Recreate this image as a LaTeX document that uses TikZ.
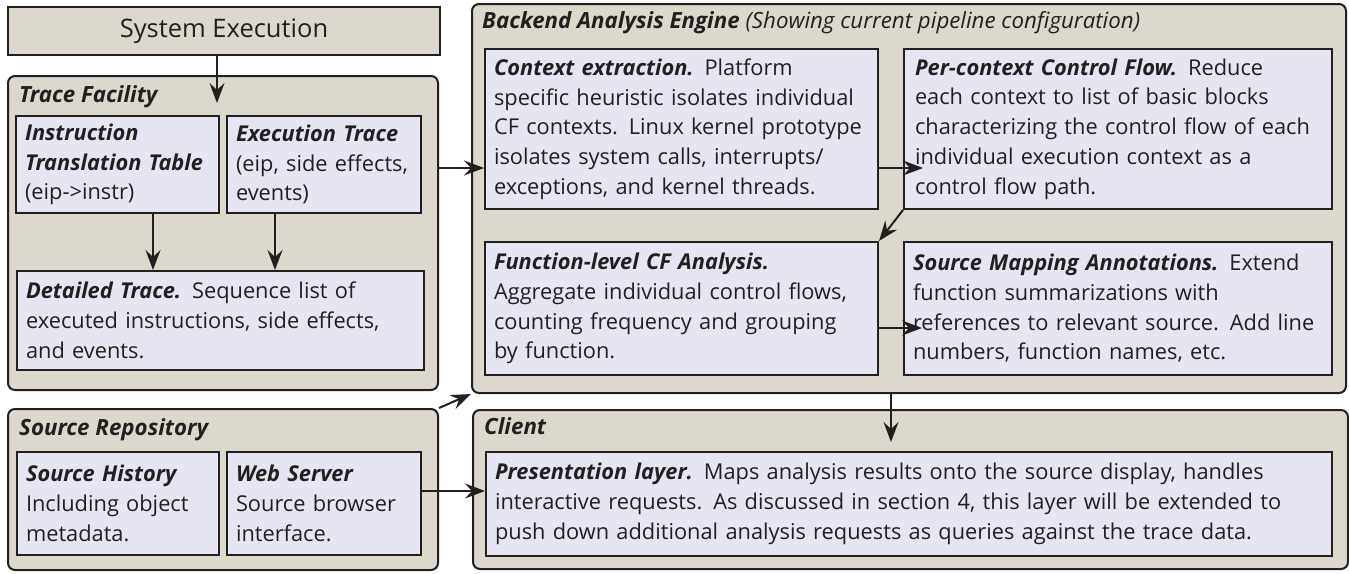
\documentclass[tikz,border=0pt]{standalone}
\usepackage{fontspec}
\setmainfont{Open Sans}
\usetikzlibrary{arrows.meta}
\definecolor{tan}{HTML}{DCD8CD}
\definecolor{lav}{HTML}{E6E6F2}
\definecolor{ink}{HTML}{231F20}
\newcommand{\bi}[1]{\textbf{\textit{#1}}}
\tikzset{
  cont/.style={draw=ink, line width=2pt, fill=tan, rounded corners=7pt, inner sep=0pt, anchor=north west},
  inbox/.style={draw=ink, line width=2pt, fill=lav, anchor=north west, inner xsep=9pt, inner ysep=0pt, align=left,
     font=\fontsize{21.8}{29.7}\selectfont, text=ink},
  ttl/.style={anchor=north west, inner sep=0pt, font=\fontsize{22.3}{26}\selectfont\bfseries\itshape, text=ink},
  arr/.style={draw=ink, line width=2pt, -{Stealth[length=20pt,width=15pt,inset=7pt]}},
}
\begin{document}
\begin{tikzpicture}[x=1pt,y=-1pt]
\useasboundingbox (0,0) rectangle (1349,573);
% System execution
\node[draw=ink, line width=2pt, fill=tan, anchor=north west, minimum width=432pt, minimum height=48pt, inner sep=0pt,
  font=\fontsize{25.5}{30}\selectfont, text=ink] (se) at (7,6) {System Execution};
% Containers
\node[cont, minimum width=430pt, minimum height=314pt] (tf) at (7,75) {};
\node[cont, minimum width=430pt, minimum height=161pt] (sr) at (7,408) {};
\node[cont, minimum width=874pt, minimum height=389pt] (bae) at (471,3) {};
\node[cont, minimum width=875pt, minimum height=159pt] (cl) at (472,409) {};
% Titles
\node[ttl] (tft) at (19,85) {Trace Facility};
\node[ttl] (srt) at (19,418) {Source Repository};
\node[ttl] (baet) at (482,11) {Backend Analysis Engine \textmd{(Showing current pipeline configuration)}};
\node[ttl] (clt) at (484,417) {Client};
% Trace facility boxes
\node[inbox, minimum width=203pt, minimum height=97pt, text width=185pt] (itt) at (15,115)
  {\bi{Instruction}\\\bi{Translation Table}\\(eip->instr)};
\node[inbox, minimum width=194pt, minimum height=97pt, text width=176pt] (et) at (226,115)
  {\bi{Execution Trace}\\(eip, side effects,\\events)};
\node[inbox, minimum width=407pt, minimum height=99pt, text width=389pt] (dt) at (16,270)
  {\bi{Detailed Trace.} Sequence list of\\executed instructions, side effects,\\and events.};
% Source repository boxes
\node[inbox, minimum width=202pt, minimum height=103pt, text width=184pt] (sh) at (16,451)
  {\bi{Source History}\\Including object\\metadata.};
\node[inbox, minimum width=194pt, minimum height=103pt, text width=176pt] (ws) at (226,451)
  {\bi{Web Server}\\Source browser\\interface.};
% Backend boxes
\node[inbox, minimum width=393pt, minimum height=160pt, text width=375pt] (ctx) at (484,48)
  {\bi{Context extraction.}\enspace Platform\\specific heuristic isolates individual\\CF contexts.\enspace Linux kernel prototype\\isolates system calls, interrupts/\\exceptions, and kernel threads.};
\node[inbox, minimum width=428pt, minimum height=160pt, text width=406pt, inner xsep=11pt] (pcf) at (903,48)
  {\bi{Per-context Control Flow.}\enspace Reduce\\each context to list of basic blocks\\characterizing the control flow of each\\individual execution context as a\\control flow path.};
\node[inbox, minimum width=393pt, minimum height=133pt, text width=375pt] (fl) at (484,241)
  {\bi{Function-level CF Analysis.}\\Aggregate individual control flows,\\counting frequency and grouping\\by function.};
\node[inbox, minimum width=428pt, minimum height=133pt, text width=410pt] (sma) at (903,241)
  {\bi{Source Mapping Annotations.}\enspace Extend\\function summarizations with\\references to relevant source.\enspace Add line\\numbers, function names, etc.};
% Client box
\node[inbox, minimum width=846pt, minimum height=104pt, text width=828pt] (pl) at (485,451)
  {\bi{Presentation layer.}\enspace Maps analysis results onto the source display, handles\\interactive requests.\enspace As discussed in section 4, this layer will be extended to\\push down additional analysis requests as queries against the trace data.};
% helper coordinates
\coordinate (tip1) at (217,103);
\coordinate (y168) at (0,168);
\coordinate (y328) at (0,328);
\coordinate (y491) at (0,491);
\coordinate (tip2) at (891,442);
\coordinate (x153) at (153,0);
\coordinate (x275) at (275,0);
% Arrows
\draw[arr] (se.south -| tip1) -- (tip1);
\draw[arr] (itt.south -| x153) -- (dt.north -| x153);
\draw[arr] (et.south -| x275) -- (dt.north -| x275);
\draw[arr] (tf.east |- y168) -- (ctx.west |- y168);
\draw[arr] (ctx.east |- y168) -- ([xshift=20pt]pcf.west |- y168);
\draw[arr] (pcf.south west) -- (fl.north east);
\draw[arr] (fl.east |- y328) -- ([xshift=19pt]sma.west |- y328);
\draw[arr] (bae.south -| tip2) -- (tip2);
\draw[arr] (sr.north east) -- (bae.south west);
\draw[arr] (ws.east |- y491) -- (pl.west |- y491);
\end{tikzpicture}
\end{document}
